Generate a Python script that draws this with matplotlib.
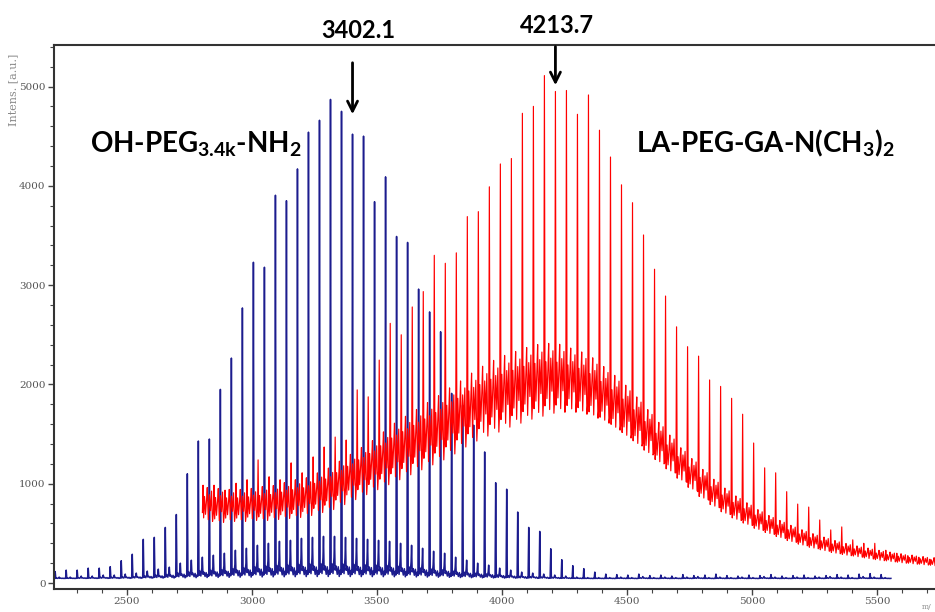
import matplotlib.pyplot as plt
from matplotlib.ticker import MultipleLocator
import numpy as np

plt.rcParams['mathtext.fontset'] = 'custom'
plt.rcParams['mathtext.rm'] = 'Lato:bold'
plt.rcParams['mathtext.it'] = 'Lato:bold'
plt.rcParams['mathtext.bf'] = 'Lato:bold'

SPACING = 44.05  # PEG repeat unit, Da

# OH-PEG3.4k-NH2 (blue): peak series anchored at the labelled 3402.1 peak
blue_ref = 3402.1
blue_first = -27
blue_heights = [115, 130, 130, 150, 150, 165, 225, 290, 440, 460,
                560, 690, 1100, 1430, 1450, 1950, 2265, 2770, 3230, 3180,
                3905, 3850, 4170, 4540, 4660, 4870, 4750, 4520, 4500, 3840,
                4090, 3490, 3430, 2960, 2730, 2530, 1910, 1790, 1590, 1320,
                1010, 945, 715, 560, 520, 345, 235, 175, 145, 110,
                90, 85, 80, 90, 75, 80, 70, 85, 75, 80,
                90, 75, 70, 80, 75, 85, 70, 75, 80, 70,
                75, 85, 80, 90, 95, 85]
blue_sats = [60, 60, 70, 70, 80, 80, 90, 100, 120, 140,
             160, 200, 230, 260, 280, 300, 330, 350, 380, 400,
             420, 430, 450, 460, 470, 470, 460, 450, 440, 430,
             420, 400, 380, 350, 320, 300, 260, 230, 200, 180,
             150, 130, 110, 100, 90, 80, 70, 60, 55, 55,
             55, 60, 55, 65, 55, 60, 55, 60, 65, 55,
             60, 55, 60, 55, 65, 60, 55, 60, 55, 60,
             65, 60, 55, 65, 60, 55]
blue_base = 45

# LA-PEG-GA-N(CH3)2 (red): peak series anchored at the labelled 4213.7 peak
red_ref = 4213.7
red_first = -32
red_heights = [985, 985, 935, 1005, 1040, 1240, 1070, 1040, 1210, 1110,
               1270, 1370, 1470, 1440, 1945, 1875, 2245, 2615, 2500, 2780,
               2935, 3300, 3220, 3325, 3690, 3740, 3990, 4220, 4275, 4730,
               4800, 5110, 4950, 4960, 4720, 4915, 4560, 4290, 4010, 3830,
               3505, 3160, 2890, 2580, 2380, 2285, 2045, 1980, 1860, 1700,
               1410, 1160, 1110, 920, 795, 765, 635, 535, 565, 435,
               400, 400, 330, 300, 275, 260, 240]
red_base = [800, 790, 790, 790, 800, 810, 820, 840, 860, 880,
            920, 960, 1020, 1080, 1140, 1200, 1270, 1340, 1400, 1460,
            1520, 1580, 1650, 1720, 1790, 1850, 1900, 1950, 1990, 2030,
            2060, 2080, 2080, 2060, 2030, 1980, 1910, 1830, 1740, 1640,
            1530, 1420, 1310, 1200, 1100, 1000, 910, 830, 760, 700,
            640, 590, 545, 500, 460, 425, 395, 365, 340, 320,
            300, 280, 265, 250, 238, 226, 215]
red_noise = [180, 180, 170, 170, 170, 180, 180, 190, 200, 200,
             210, 220, 230, 240, 250, 260, 280, 300, 310, 320,
             330, 340, 350, 350, 360, 370, 380, 380, 380, 380,
             380, 370, 360, 340, 330, 320, 300, 290, 280, 260,
             240, 220, 200, 180, 170, 160, 150, 140, 130, 120,
             110, 100, 95, 90, 85, 80, 75, 70, 65, 60,
             58, 55, 52, 50, 48, 45, 45]

# sub-peak shape between repeat units: (offset in Da, relative level)
BLUE_SHAPE = [(-2.5, 0.1), (0.0, None), (2.5, 0.15), (6, 0.35), (10, 0.12),
              (14, 0.5), (16, 1.0), (18.5, 0.2), (22, 0.3), (27, 0.1),
              (31, 0.28), (35, 0.05), (39, 0.2)]
RED_SHAPE = [(-2.5, -0.5), (0.0, None), (2.5, -0.8), (6, 0.4), (10, -0.6),
             (14, 0.2), (17, 0.9), (21, -0.9), (25.5, 0.5),
             (30, -0.4), (34, 0.7), (38, -1.0)]


def trace(ref, first, heights, base, amp, shape):
    xs, ys = [], []
    for i, h in enumerate(heights):
        m = ref + SPACING * (first + i)
        for off, rel in shape:
            xs.append(m + off)
            ys.append(h if rel is None else base[i] + rel * amp[i])
    return np.array(xs), np.array(ys)


bx, by = trace(blue_ref, blue_first, blue_heights, [blue_base] * len(blue_heights),
               [s - blue_base for s in blue_sats], BLUE_SHAPE)
rx, ry = trace(red_ref, red_first, red_heights, red_base, red_noise, RED_SHAPE)

fig = plt.figure(figsize=(9.35, 6.12), dpi=100)
ax = fig.add_axes([54 / 935, 1 - 589 / 612, 1 - 54 / 935, (589 - 45) / 612])
ax.plot(bx, by, color='#1c1c8e', lw=1.1, zorder=2)
ax.plot(rx, ry, color='#ff0000', lw=0.85, zorder=3)

ax.set_xlim(2208, 5732)
ax.set_ylim(-60, 5418)
ax.xaxis.set_major_locator(MultipleLocator(500))
ax.xaxis.set_minor_locator(MultipleLocator(100))
ax.yaxis.set_major_locator(MultipleLocator(1000))
ax.yaxis.set_minor_locator(MultipleLocator(200))
ax.spines['right'].set_visible(False)
for s in ['top', 'left', 'bottom']:
    ax.spines[s].set_color('#333333')
    ax.spines[s].set_linewidth(1.5)
ax.tick_params(which='major', direction='out', length=4, width=1, color='#444444',
               labelsize=7.5, labelcolor='#555555', pad=2)
ax.tick_params(which='minor', direction='out', length=3, width=0.8, color='#444444')
for lab in ax.get_xticklabels() + ax.get_yticklabels():
    lab.set_family('DejaVu Serif')

fig.text(13 / 935, 1 - 90 / 612, 'Intens. [a.u.]', rotation=90, ha='center', va='center',
         fontsize=8, family='DejaVu Serif', color='#888888')
fig.text(922 / 935, 1 - 607 / 612, 'm/', ha='left', va='center',
         fontsize=5.5, family='DejaVu Serif', color='#888888')

# peak markers
ax.annotate('', xy=(3402.1, 4693), xytext=(3402.1, 5267), annotation_clip=False,
            arrowprops=dict(arrowstyle='->', lw=2, color='black', mutation_scale=18))
ax.text(3424, 5569, '3402.1', ha='center', va='center', fontsize=17,
        family='Lato', weight='bold', clip_on=False)
ax.annotate('', xy=(4213.7, 4985), xytext=(4213.7, 5430), annotation_clip=False,
            arrowprops=dict(arrowstyle='->', lw=2, color='black', mutation_scale=18))
ax.text(4220, 5619, '4213.7', ha='center', va='center', fontsize=17,
        family='Lato', weight='bold', clip_on=False)

ax.text(2352, 4340, r'OH-PEG$_{\mathrm{3.4k}}$-NH$_{\mathrm{2}}$', ha='left', va='baseline',
        fontsize=20, family='Lato', weight='bold')
ax.text(4536, 4340, r'LA-PEG-GA-N(CH$_{\mathrm{3}}$)$_{\mathrm{2}}$', ha='left', va='baseline',
        fontsize=20, family='Lato', weight='bold')

fig.savefig('out.png', dpi=100)
